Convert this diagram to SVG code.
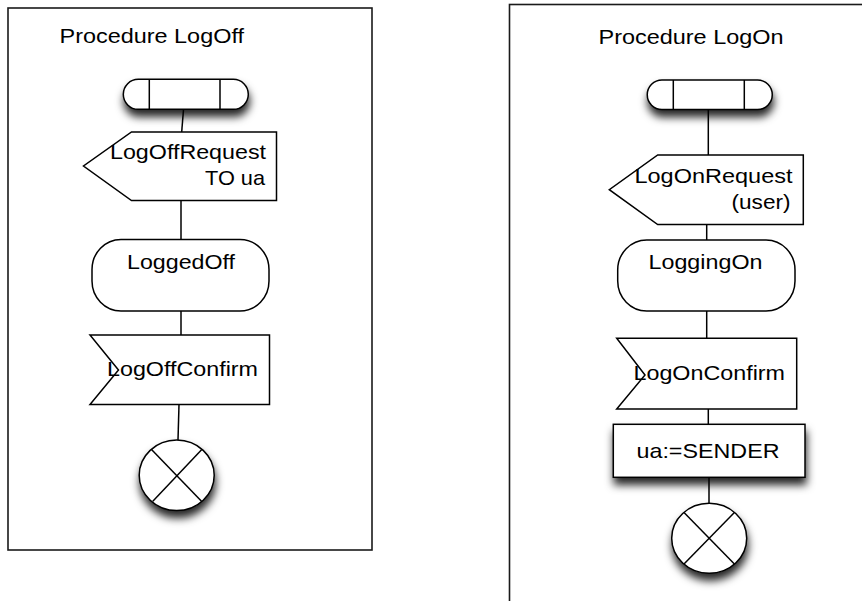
<svg xmlns="http://www.w3.org/2000/svg" width="862" height="601" viewBox="0 0 862 601">
  <style>
    .frame { fill: #ffffff; stroke: #1a1a1a; stroke-width: 1.6; }
    .shape { fill: #ffffff; stroke: #000000; stroke-width: 1.5; }
    .edge { fill: none; stroke: #000000; stroke-width: 1.5; }
    .lbl { font-family: "Liberation Sans", Arial, Helvetica, sans-serif; font-size: 21px; fill: #000000; }
  </style>
  <defs>
    <filter id="shadow" x="-30%" y="-30%" width="160%" height="190%">
      <feDropShadow dx="1" dy="7" stdDeviation="4.5" flood-color="#000000" flood-opacity="0.85"/>
    </filter>
  </defs>
  <rect width="862" height="601" fill="#ffffff"/>

  <g id="frame-logoff">
    <rect class="frame" x="8" y="8" width="364" height="542"/>
    <text class="lbl" x="59.5" y="43" textLength="184.5" lengthAdjust="spacingAndGlyphs">Procedure LogOff</text>
  </g>
  <g id="frame-logon">
    <rect class="frame" x="509.5" y="4.5" width="420" height="700"/>
    <text class="lbl" x="598.5" y="43.5" textLength="185" lengthAdjust="spacingAndGlyphs">Procedure LogOn</text>
  </g>

  <g id="connectors">
    <line class="edge" x1="183.5" y1="109.5" x2="181.7" y2="132"/>
    <line class="edge" x1="181" y1="200.5" x2="181" y2="239.5"/>
    <line class="edge" x1="181" y1="311" x2="181" y2="335"/>
    <line class="edge" x1="179" y1="404.5" x2="178" y2="440"/>
    <line class="edge" x1="708.3" y1="109.5" x2="708.3" y2="155"/>
    <line class="edge" x1="706.7" y1="224.5" x2="706.7" y2="240"/>
    <line class="edge" x1="706.7" y1="311" x2="706.7" y2="338.3"/>
    <line class="edge" x1="708.3" y1="409" x2="708.3" y2="424.3"/>
    <line class="edge" x1="709" y1="477.3" x2="709" y2="503.3"/>
  </g>

  <g id="start-logoff">
    <path class="shape" filter="url(#shadow)" d="M138.3,79.3 H233.3 A15,15 0 0 1 233.3,109.3 H138.3 A15,15 0 0 1 138.3,79.3 Z"/>
    <line class="edge" x1="149.3" y1="79.3" x2="149.3" y2="109.3"/>
    <line class="edge" x1="220" y1="79.3" x2="220" y2="109.3"/>
  </g>
  <g id="out-logoffrequest">
    <polygon class="shape" points="131.5,132 276.5,132 276.5,200.5 131.5,200.5 83.5,166"/>
    <text class="lbl" x="110" y="159" textLength="156" lengthAdjust="spacingAndGlyphs">LogOffRequest</text>
    <text class="lbl" x="205" y="185" textLength="60" lengthAdjust="spacingAndGlyphs">TO ua</text>
  </g>
  <g id="state-loggedoff">
    <rect class="shape" x="92" y="239.5" width="177" height="71.5" rx="29" ry="30"/>
    <text class="lbl" x="127" y="268.5" textLength="108" lengthAdjust="spacingAndGlyphs">LoggedOff</text>
  </g>
  <g id="in-logoffconfirm">
    <polygon class="shape" points="90,335 269.5,335 269.5,404.5 90,404.5 118.5,370"/>
    <text class="lbl" x="107" y="375.5" textLength="151" lengthAdjust="spacingAndGlyphs">LogOffConfirm</text>
  </g>
  <g id="stop-logoff">
    <ellipse class="shape" filter="url(#shadow)" cx="176.7" cy="475.3" rx="37.5" ry="35.3"/>
    <line class="edge" x1="151.5" y1="449.5" x2="201.5" y2="501.3"/>
    <line class="edge" x1="201.8" y1="449.5" x2="152.8" y2="501.3"/>
  </g>

  <g id="start-logon">
    <path class="shape" filter="url(#shadow)" d="M662,80 H757.5 A14.75,14.75 0 0 1 757.5,109.5 H662 A14.75,14.75 0 0 1 662,80 Z"/>
    <line class="edge" x1="673.3" y1="80" x2="673.3" y2="109.5"/>
    <line class="edge" x1="744.3" y1="80" x2="744.3" y2="109.5"/>
  </g>
  <g id="out-logonrequest">
    <polygon class="shape" points="657.7,155 803.3,155 803.3,224.5 657.7,224.5 609.3,189.7"/>
    <text class="lbl" x="634.5" y="183" textLength="158" lengthAdjust="spacingAndGlyphs">LogOnRequest</text>
    <text class="lbl" x="731.5" y="209" textLength="59" lengthAdjust="spacingAndGlyphs">(user)</text>
  </g>
  <g id="state-loggingon">
    <rect class="shape" x="617.7" y="240" width="177.3" height="71" rx="29" ry="30"/>
    <text class="lbl" x="648.5" y="268.5" textLength="114" lengthAdjust="spacingAndGlyphs">LoggingOn</text>
  </g>
  <g id="in-logonconfirm">
    <polygon class="shape" points="616.7,338.3 796.7,338.3 796.7,409 616.7,409 645,375"/>
    <text class="lbl" x="633.5" y="380" textLength="151.5" lengthAdjust="spacingAndGlyphs">LogOnConfirm</text>
  </g>
  <g id="task-sender">
    <rect class="shape" filter="url(#shadow)" x="613.3" y="424.3" width="191.7" height="53"/>
    <text class="lbl" x="636.5" y="457.5" textLength="143" lengthAdjust="spacingAndGlyphs">ua:=SENDER</text>
  </g>
  <g id="stop-logon">
    <ellipse class="shape" filter="url(#shadow)" cx="709.2" cy="538.3" rx="37.5" ry="35"/>
    <line class="edge" x1="684" y1="512.5" x2="734.4" y2="564.1"/>
    <line class="edge" x1="734.4" y1="512.5" x2="684" y2="564.1"/>
  </g>
</svg>
